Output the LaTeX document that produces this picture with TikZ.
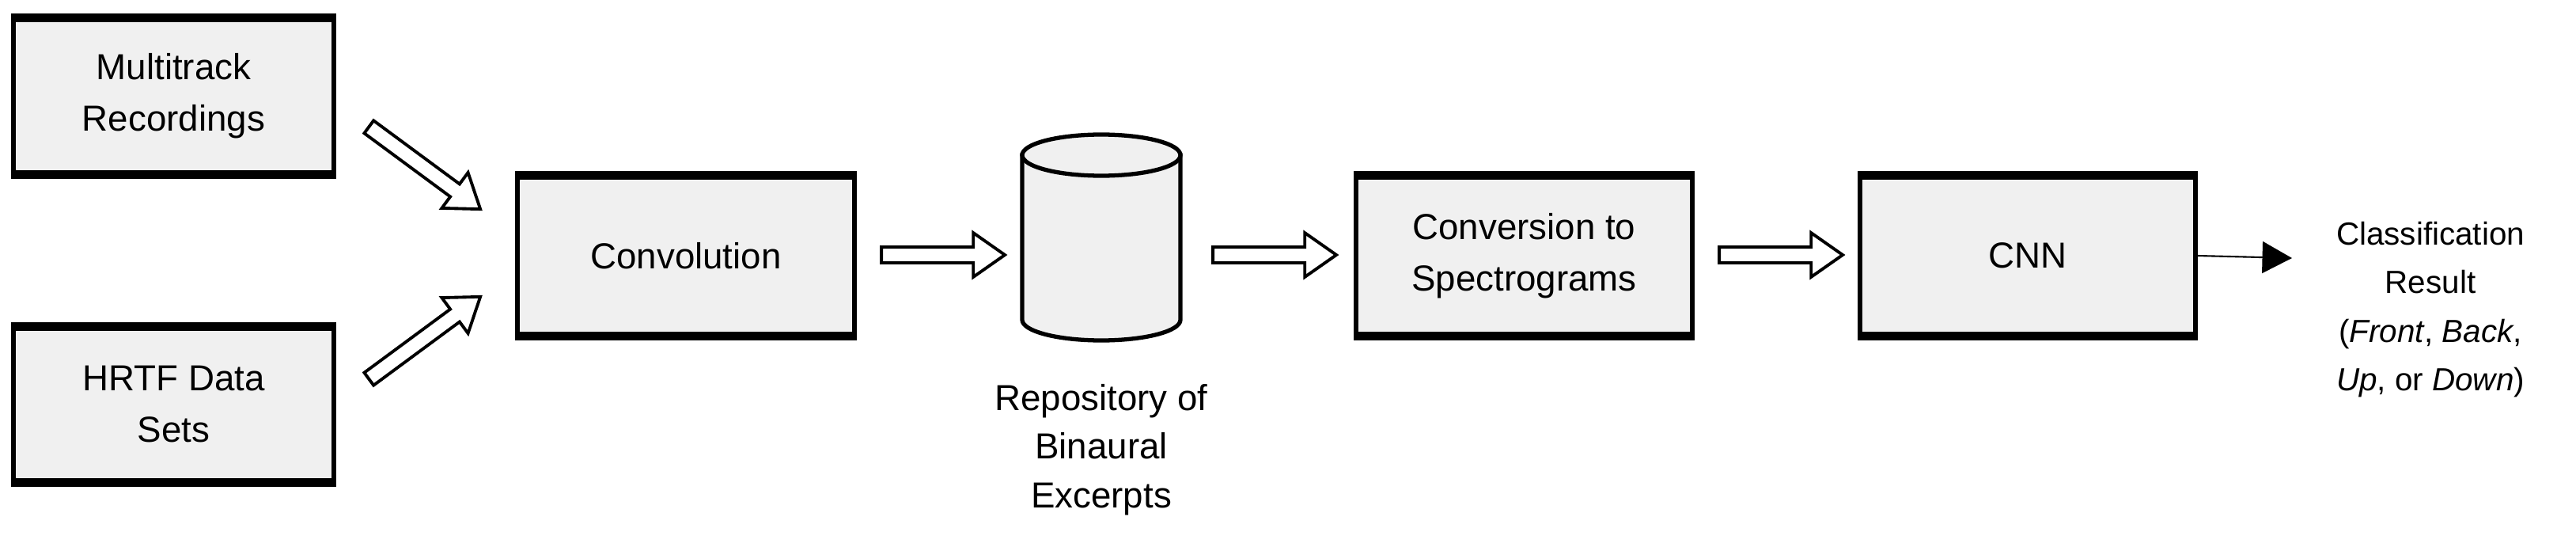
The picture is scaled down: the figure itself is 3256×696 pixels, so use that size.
\documentclass[tikz,border=0pt]{standalone}
\usepackage{fontspec}
\setmainfont{Liberation Sans}
\usetikzlibrary{shapes.arrows,arrows.meta}
\begin{document}
\begin{tikzpicture}[x=0.02cm,y=-0.02cm,
  box/.style={draw,line width=3pt,fill=black!6,inner sep=0pt,align=center,font=\fontsize{26}{37}\selectfont},
  open/.style={single arrow,draw,line width=2.2pt,fill=white,inner xsep=0pt,inner ysep=0.16cm,minimum width=1.05cm,single arrow head extend=0.36cm,single arrow tip angle=70},
  lbl/.style={align=center,font=\fontsize{26}{35}\selectfont}]
\useasboundingbox (0,0) rectangle (3256,696);
\newcommand{\mybox}[6]{% name, x1,y1,x2,y2, text
  \node[box,minimum width={(#4-#2)*0.02cm},minimum height={(#5-#3)*0.02cm}] (#1) at ({(#2+#4)/2},{(#3+#5)/2}) {#6};
  \draw[line width=6pt] (#1.north west) -- (#1.north east) (#1.south west) -- (#1.south east);}
\mybox{multi}{17}{25}{422}{218}{Multitrack\\Recordings}
\mybox{hrtf}{17}{415}{422}{607}{HRTF Data\\Sets}
\mybox{conv}{654}{224}{1080}{422}{Convolution}
\mybox{spec}{1714}{224}{2139}{422}{Conversion to\\Spectrograms}
\mybox{cnn}{2351}{224}{2775}{422}{CNN}
% cylinder
\coordinate (cyl) at (1392,300);
\draw[line width=3pt,fill=black!6] (1292,196) -- (1292,404) arc[start angle=180,end angle=360,x radius=100,y radius=-26] -- (1492,196) -- cycle;
\draw[line width=3pt,fill=black!6] (1392,196) ellipse [x radius=100,y radius=26];
\node[lbl] (repo) at (1392,568) {Repository of\\Binaural\\Excerpts};
\node[lbl,font=\fontsize{23}{35}\selectfont] (res) at (3072,391) {Classification\\Result\\(\textit{Front}, \textit{Back},\\\textit{Up}, or \textit{Down})};
% open arrows
\node[open,minimum height=3.5cm,rotate=-36.4] (a1) at (531,208) {};
\node[open,minimum height=3.5cm,rotate=36.4] (a2) at (531,431) {};
\node[open,minimum height=3.12cm] (a3) at (1185,322) {};
\node[open,minimum height=3.12cm] (a4) at (1604,322) {};
\node[open,minimum height=3.12cm] (a5) at (2244,322) {};
\draw[line width=1.2pt,-{Triangle[length=0.75cm,width=0.8cm]}] (cnn.east) -- (2897,326);
\end{tikzpicture}
\end{document}
